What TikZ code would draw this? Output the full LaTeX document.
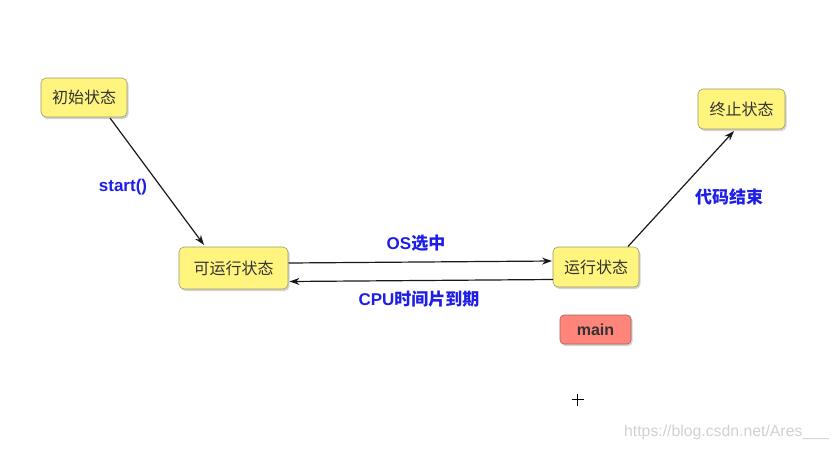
\documentclass[tikz,border=0pt]{standalone}
\usepackage{fontspec}
\setsansfont{Liberation Sans}
\newfontfamily\cjk{Noto Sans CJK SC}
\usetikzlibrary{arrows.meta,shadows}
\definecolor{boxfill}{HTML}{FFF47E}
\definecolor{boxline}{HTML}{9A9A6A}
\definecolor{mainfill}{HTML}{FF847A}
\definecolor{mainline}{HTML}{A06060}
\definecolor{lblue}{HTML}{1E1EE6}
\definecolor{boxtext}{HTML}{333333}
\tikzset{
  state/.style={draw=boxline, line width=0.6pt, fill=boxfill, rounded corners=5pt,
    inner sep=0pt, minimum height=40pt, text=boxtext, font=\cjk\fontsize{16}{19}\selectfont,
    drop shadow={opacity=0.35, shadow xshift=1.5pt, shadow yshift=-2pt}},
  mainbox/.style={draw=mainline, line width=0.6pt, fill=mainfill, rounded corners=4pt,
    inner sep=0pt, minimum width=71pt, minimum height=29pt, text=boxtext,
    font=\sffamily\bfseries\fontsize{16}{19}\selectfont,
    drop shadow={opacity=0.35, shadow xshift=1.5pt, shadow yshift=-2pt}},
  lbl/.style={text=lblue, inner sep=0pt, font=\bfseries\fontsize{17}{20}\selectfont},
  conn/.style={line width=1.2pt, draw=black!90, -{Stealth[length=10pt,width=7pt]}}
}
\begin{document}
\begin{tikzpicture}[x=1pt,y=-1pt]
\useasboundingbox (0,0) rectangle (838,451);
\node[state, minimum width=86pt, minimum height=39pt] (init) at (84,97.5) {初始状态};
\node[state, minimum width=109pt, minimum height=42pt] (ready) at (233.5,268) {可运行状态};
\node[state, minimum width=86pt] (run) at (596,267) {运行状态};
\node[state, minimum width=87pt] (term) at (741.5,109) {终止状态};
\node[mainbox] (main) at (595.5,329.5) {main};

\coordinate (a1) at (110,118);
\coordinate (a2) at (204,245);
\draw[conn] (a1) -- (a2);
\coordinate (b1) at (288.5,263);
\coordinate (b2) at (552,261);
\draw[conn] (b1) -- (b2);
\coordinate (c1) at (553,279.5);
\coordinate (c2) at (289.5,281.5);
\draw[conn] (c1) -- (c2);
\coordinate (d1) at (628,246.5);
\coordinate (d2) at (734,131);
\draw[conn] (d1) -- (d2);

\node[lbl] (l1) at (123,187) {\sffamily start()};
\node[lbl] (l2) at (416,243) {\sffamily OS\cjk 选中};
\node[lbl] (l3) at (419,299) {\sffamily CPU\cjk 时间片到期};
\node[lbl] (l4) at (729,197) {\cjk 代码结束};

\node[anchor=east, inner sep=0pt, text=black!18, font=\sffamily\fontsize{15.8}{18}\selectfont] (wm) at (829,432) {https://blog.csdn.net/Ares\_\_\_};
\coordinate (cur) at (577.5,399.5);
\draw[line width=0.8pt] ([xshift=-6pt]cur) -- ([xshift=6pt]cur) ([yshift=-6pt]cur) -- ([yshift=6pt]cur);
\end{tikzpicture}
\end{document}
